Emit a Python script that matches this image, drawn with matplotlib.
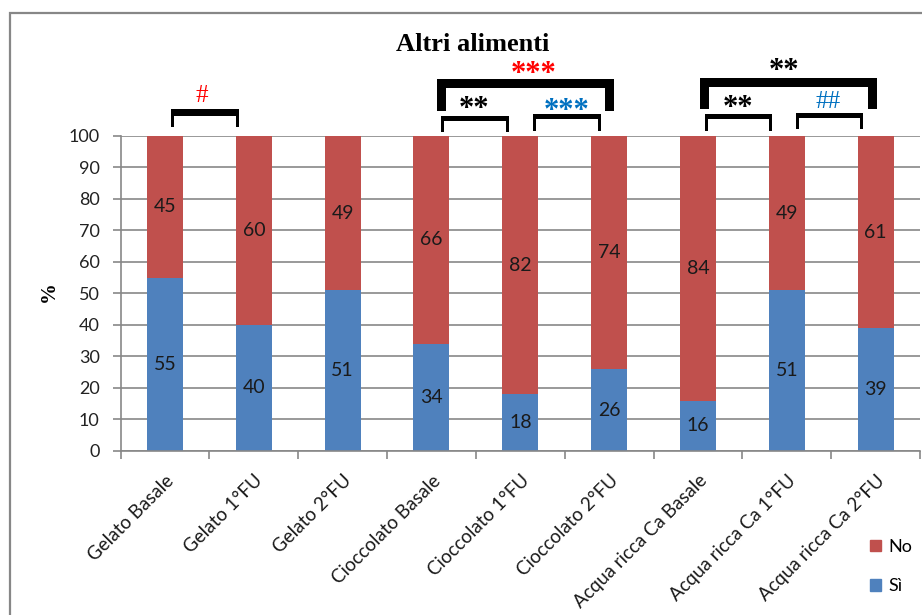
import matplotlib.pyplot as plt
from matplotlib.patches import Rectangle, Patch

categorie = ["Gelato Basale", "Gelato 1°FU", "Gelato 2°FU",
             "Cioccolato Basale", "Cioccolato 1°FU", "Cioccolato 2°FU",
             "Acqua ricca Ca Basale", "Acqua ricca Ca 1°FU", "Acqua ricca Ca 2°FU"]
si = [55, 40, 51, 34, 18, 26, 16, 51, 39]
no = [45, 60, 49, 66, 82, 74, 84, 49, 61]

BLU = "#4F81BD"
ROSSO = "#C0504D"
GRIGIO = "#878787"
SANS = ["Lato", "DejaVu Sans"]
SERIF = ["Liberation Serif", "DejaVu Serif"]

fig = plt.figure(figsize=(9.22, 6.15), dpi=100)
ax = fig.add_axes([0.1308, 0.2667, 0.867, 0.5122])

x = range(len(categorie))
w = 0.405
ax.bar(x, si, w, color=BLU, zorder=2, label="Sì")
ax.bar(x, no, w, bottom=si, color=ROSSO, zorder=2, label="No")

for i in x:
    ax.text(i, si[i] / 2, str(si[i]), ha="center", va="center",
            fontsize=14, family=SANS, color="#1a1a1a", zorder=3)
    ax.text(i, si[i] + no[i] / 2, str(no[i]), ha="center", va="center",
            fontsize=14, family=SANS, color="#1a1a1a", zorder=3)

ax.set_xlim(-0.5, len(categorie) - 0.5)
ax.set_ylim(0, 100)
ax.set_yticks(range(0, 101, 10))
ax.yaxis.grid(True, color=GRIGIO, linewidth=1.2, zorder=0)
ax.set_axisbelow(True)

# etichette delle categorie al centro, tacche tra una barra e l'altra
ax.set_xticks(list(x))
ax.set_xticklabels(categorie, rotation=45, ha="right", rotation_mode="anchor",
                   fontsize=13.5, family=SANS, color="#1a1a1a")
ax.set_xticks([i - 0.5 for i in range(len(categorie) + 1)], minor=True)
ax.tick_params(axis="x", which="major", length=0, pad=15)
ax.tick_params(axis="x", which="minor", length=6, color=GRIGIO, width=1.2)
ax.tick_params(axis="y", length=6, color=GRIGIO, width=1.2, labelsize=13, pad=9)
for lab in ax.get_yticklabels():
    lab.set_family(SANS)
    lab.set_color("#222222")

for s in ["top", "right"]:
    ax.spines[s].set_visible(False)
for s in ["left", "bottom"]:
    ax.spines[s].set_color(GRIGIO)
    ax.spines[s].set_linewidth(1.2)

ax.set_ylabel("%", fontsize=15, fontweight="bold", family=SERIF)
ax.yaxis.set_label_coords(-0.077, 0.505)
fig.text(0.513, 0.928, "Altri alimenti", ha="center", va="center",
         fontsize=19, fontweight="bold", family=SERIF)


def parentesi(x0, x1, y_top, y_piede, spessore, gamba):
    xs = [x0, x0, x1, x1, x1 - gamba, x1 - gamba, x0 + gamba, x0 + gamba]
    ys = [y_piede, y_top, y_top, y_piede, y_piede,
          y_top - spessore, y_top - spessore, y_piede]
    ax.fill(xs, ys, color="black", clip_on=False, zorder=4, linewidth=0)


# confronti Gelato
parentesi(0.068, 0.834, 108.6, 102.9, 2.2, 0.034)
# confronti Cioccolato
parentesi(3.063, 5.056, 118.1, 107.9, 2.9, 0.10)
parentesi(3.108, 3.874, 106.3, 101.3, 1.6, 0.037)
parentesi(4.144, 4.910, 107.0, 101.6, 1.6, 0.037)
# confronti Acqua ricca Ca
parentesi(6.025, 8.018, 118.4, 108.6, 2.9, 0.10)
parentesi(6.081, 6.836, 107.0, 101.6, 1.6, 0.037)
parentesi(7.106, 7.860, 107.3, 102.2, 1.6, 0.037)

simboli = [
    (0.417, 112.7, "#", "#FF0000", "normal"),
    (4.150, 119.6, "***", "#FF0000", "bold"),
    (3.480, 108.3, "**", "black", "bold"),
    (4.520, 107.8, "***", "#0070C0", "bold"),
    (6.970, 120.6, "**", "black", "bold"),
    (6.450, 108.7, "**", "black", "bold"),
    (7.470, 110.9, "##", "#0070C0", "normal"),
]
for sx, sy, testo, col, peso in simboli:
    ax.text(sx, sy, testo, ha="center", va="center", color=col,
            fontsize=18 if "#" in testo else 22, fontweight=peso,
            family=SERIF, clip_on=False, zorder=5)

maniglie = [Patch(color=ROSSO, label="No"), Patch(color=BLU, label="Sì")]
fig.legend(handles=maniglie, loc="center left", bbox_to_anchor=(0.934, 0.079),
           frameon=False, prop={"family": SANS, "size": 13},
           handlelength=0.6, handleheight=0.6, handletextpad=0.4,
           labelspacing=1.3, borderpad=0)

# cornice esterna del grafico
fig.patches.append(Rectangle((0.011, -0.1), 1.2, 1.1 - 13 / 615,
                             transform=fig.transFigure, fill=False,
                             edgecolor=GRIGIO, linewidth=1.6))

fig.savefig("out.png", dpi=100)
